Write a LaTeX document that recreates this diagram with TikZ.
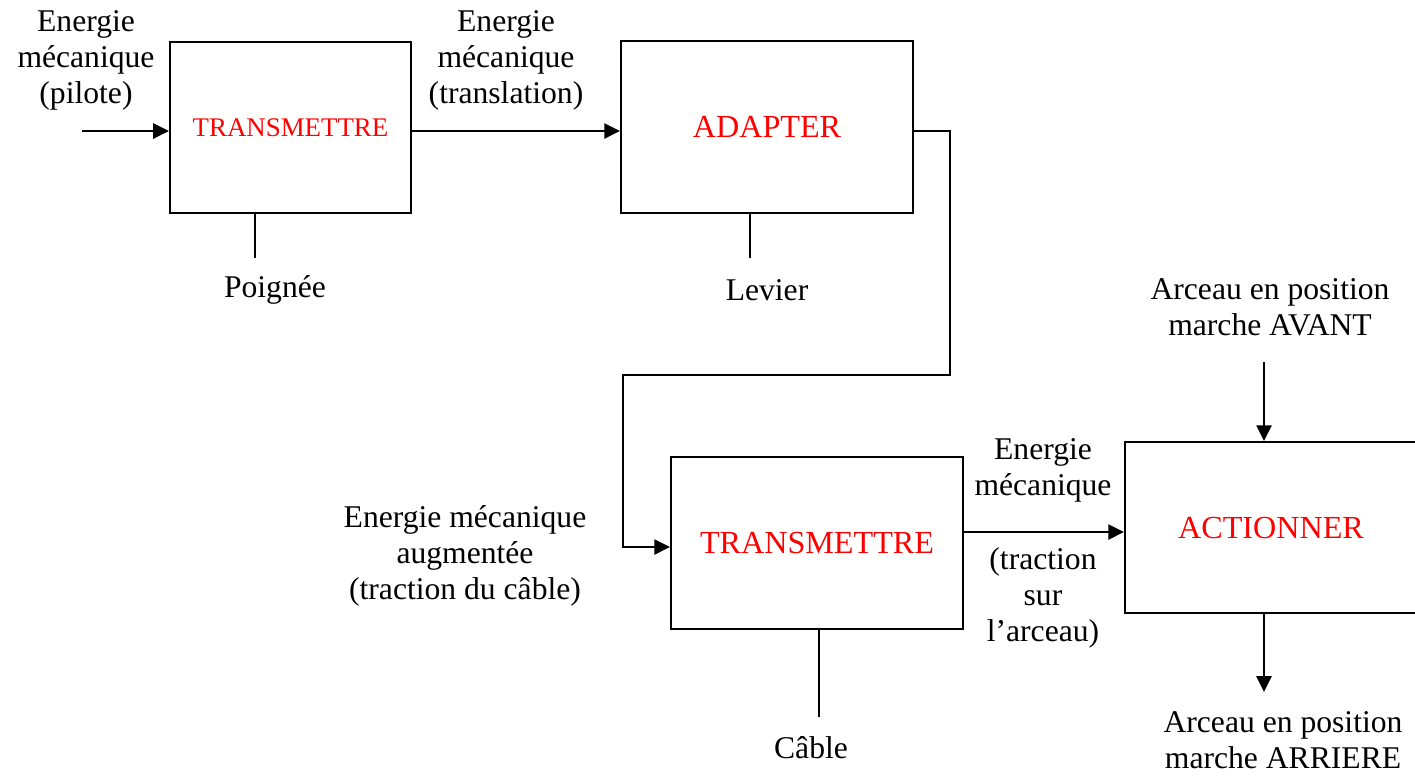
\documentclass[tikz,border=0pt]{standalone}
\usepackage{fontspec}
\setmainfont{Liberation Serif}
\usepackage{tikz}
\usetikzlibrary{positioning, arrows.meta}

\begin{document}
\begin{tikzpicture}[x=0.02cm, y=-0.02cm,
  fbox/.style={rectangle, draw=black, line width=1.1pt, fill=white,
               text=red, inner sep=0pt,
               font=\fontsize{18.3}{21}\selectfont},
  lbl/.style={align=center, inner sep=0pt,
              font=\fontsize{18}{20.5}\selectfont},
  arr/.style={-{Triangle[length=9pt, width=8.5pt]}, line width=1.6pt},
  supp/.style={line width=0.9pt}
]
\useasboundingbox (0,0) rectangle (1415,775);

% Functions
\node[fbox, minimum width=4.82cm, minimum height=3.42cm,
      font=\fontsize{15.3}{18}\selectfont] (trans1) at (290.5,127.5) {TRANSMETTRE};
\node[fbox, minimum width=5.84cm, minimum height=3.44cm] (adapt) at (767,127) {ADAPTER};
\node[fbox, minimum width=5.84cm, minimum height=3.44cm] (trans2) at (817,543) {TRANSMETTRE};
\node[fbox, minimum width=5.84cm, minimum height=3.42cm] (action) at (1271,527.5) {ACTIONNER};

% Flow labels
\node[lbl] (epilote) at (86,60) {Energie\\mécanique\\(pilote)};
\node[lbl] (etrans) at (506,60) {Energie\\mécanique\\(translation)};
\node[lbl] (eaug) at (465,556) {Energie mécanique\\augmentée\\(traction du câble)};
\node[lbl] (emeca) at (1043,470) {Energie\\mécanique};
\node[lbl] (etract) at (1043,598) {(traction\\sur\\l’arceau)};
\node[lbl] (avant) at (1270,307) {Arceau en position\\marche AVANT};
\node[lbl] (arriere) at (1283,740) {Arceau en position\\marche ARRIERE};

% Supports
\node[lbl] (poignee) at (275,290) {Poignée};
\node[lbl] (levier) at (767,290) {Levier};
\node[lbl] (cable) at (811,748) {Câble};

\coordinate (in) at (82,131);
\coordinate (b1) at (950,131);
\coordinate (b2) at (623,375);
\coordinate (b3) at (623,547);
\coordinate (avt) at (1264,362);
\coordinate (arr) at (1264,692);
\coordinate (s1) at (255,258);
\coordinate (s2) at (750,258);
\coordinate (s3) at (819,717);

% Arrows
\draw[arr] (in) -- (in -| trans1.west);
\draw[arr] (trans1.east |- in) -- (adapt.west |- in);
\draw[arr] (adapt.east |- b1) -- (b1) |- (b2) -- (b3) -- (b3 -| trans2.west);
\draw[arr] (trans2.east |- 0,532) -- (action.west |- 0,532);
\draw[arr] (avt) -- (avt |- action.north);
\draw[arr] (arr |- action.south) -- (arr);

\draw[supp] (trans1.south -| s1) -- (s1);
\draw[supp] (adapt.south -| s2) -- (s2);
\draw[supp] (trans2.south -| s3) -- (s3);

\end{tikzpicture}
\end{document}
